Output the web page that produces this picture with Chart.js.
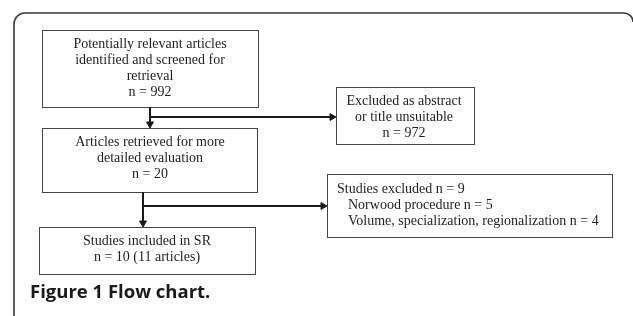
<!DOCTYPE html>
<html>
<head>
<meta charset="utf-8">
<script src="https://cdn.jsdelivr.net/npm/chart.js@4/dist/chart.umd.min.js"></script>
<style>
  html,body{margin:0;padding:0;background:#fff;}
  #wrap{width:633px;height:316px;position:relative;}
</style>
</head>
<body>
<div id="wrap"><canvas id="c"></canvas></div>
<script>
// flow chart content
const stageTexts = [
  ['Potentially relevant articles', 'identified and screened for', 'retrieval'],
  ['Articles retrieved for more', 'detailed evaluation'],
  ['Studies included in SR']
];
const stageCounts = ['n = 992', 'n = 20', 'n = 10 (11 articles)'];
const exclTexts = [
  ['Excluded as abstract', 'or title unsuitable'],
  ['Studies excluded n = 9']
];
const exclCounts = ['n = 972', null];
const exclReasons = [[], ['Norwood procedure n = 5', 'Volume, specialization, regionalization n = 4']];
const caption = ['Figure 1', 'Flow chart.'];

// layout in scale units (x 0..633, y 0..316 top-down)
const layout = {
  stages: [
    {x: 42, y: 30, w: 216, h: 77, cx: 150, line0: 44},
    {x: 42, y: 128, w: 215, h: 64, cx: 150, line0: 142},
    {x: 39, y: 227, w: 216, h: 47, cx: 147, line0: 241}
  ],
  excl: [
    {x: 336, y: 87, w: 138, h: 57, cx: 404, line0: 101, align: 'center'},
    {x: 327, y: 174, w: 285, h: 63, tx: 337, indent: 11, line0: 189, align: 'left'}
  ],
  lineH: 16.2,
  arrows: [
    {from: [150, 107], to: [150, 124], branchY: 117, branchTo: 332},
    {from: [143, 192], to: [143, 223], branchY: 206, branchTo: 323}
  ]
};

const datasets = [];
layout.arrows.forEach(a => {
  datasets.push({type: 'line', data: [{x: a.from[0], y: a.from[1]}, {x: a.to[0], y: a.to[1]}],
    borderColor: '#1a1a1a', borderWidth: 2, pointRadius: 0, showLine: true});
  datasets.push({type: 'line', data: [{x: a.from[0], y: a.branchY}, {x: a.branchTo, y: a.branchY}],
    borderColor: '#1a1a1a', borderWidth: 2, pointRadius: 0, showLine: true});
  datasets.push({type: 'scatter', data: [{x: a.to[0], y: a.to[1]}], pointStyle: 'triangle', rotation: 180,
    pointRadius: 4, backgroundColor: '#1a1a1a', borderColor: '#1a1a1a', borderWidth: 1});
  datasets.push({type: 'scatter', data: [{x: a.branchTo, y: a.branchY}], pointStyle: 'triangle', rotation: 90,
    pointRadius: 4, backgroundColor: '#1a1a1a', borderColor: '#1a1a1a', borderWidth: 1});
});

const flowPlugin = {
  id: 'flow',
  beforeDatasetsDraw(chart){
    const {ctx, scales:{x, y}} = chart;
    const px = v => x.getPixelForValue(v), py = v => y.getPixelForValue(v);
    ctx.save();
    // outer frame (open at bottom)
    ctx.strokeStyle = '#3a3a3a'; ctx.lineWidth = 1.6;
    const r = 11;
    ctx.beginPath();
    ctx.moveTo(px(14), py(316));
    ctx.lineTo(px(14), py(13 + r));
    ctx.arcTo(px(14), py(13), px(14 + r), py(13), r);
    ctx.lineTo(px(624), py(13));
    ctx.arcTo(px(633), py(13), px(633), py(22), 9);
    ctx.stroke();

    ctx.strokeStyle = '#444'; ctx.lineWidth = 1;
    const rect = b => ctx.strokeRect(Math.round(px(b.x)) + 0.5, Math.round(py(b.y)) + 0.5,
      Math.round(px(b.x + b.w) - px(b.x)), Math.round(py(b.y + b.h) - py(b.y)));
    layout.stages.forEach(rect);
    layout.excl.forEach(rect);

    ctx.fillStyle = '#1e1e1e';
    ctx.font = '14px "Liberation Serif", "Times New Roman", serif';
    ctx.textBaseline = 'middle';
    layout.stages.forEach((b, i) => {
      ctx.textAlign = 'center';
      const lines = stageTexts[i].concat([stageCounts[i]]);
      lines.forEach((t, k) => ctx.fillText(t, px(b.cx), py(b.line0 + k * layout.lineH)));
    });
    layout.excl.forEach((b, i) => {
      if(b.align === 'center'){
        ctx.textAlign = 'center';
        const lines = exclTexts[i].concat(exclCounts[i] ? [exclCounts[i]] : []);
        lines.forEach((t, k) => ctx.fillText(t, px(b.cx), py(b.line0 + k * layout.lineH)));
      } else {
        ctx.textAlign = 'left';
        exclTexts[i].forEach((t, k) => ctx.fillText(t, px(b.tx), py(b.line0 + k * layout.lineH)));
        exclReasons[i].forEach((t, k) => ctx.fillText(t, px(b.tx + b.indent),
          py(b.line0 + (k + exclTexts[i].length) * layout.lineH)));
      }
    });

    // caption
    ctx.textAlign = 'left';
    ctx.textBaseline = 'alphabetic';
    ctx.fillStyle = '#1a1a1a';
    ctx.font = 'bold 18.5px "Open Sans", "DejaVu Sans", sans-serif';
    ctx.fillText(caption.join(' '), px(30), py(298));
    ctx.restore();
  }
};

new Chart(document.getElementById('c'), {
  data: {datasets},
  options: {
    responsive: true,
    maintainAspectRatio: false,
    animation: false,
    layout: {padding: 0, autoPadding: false},
    plugins: {legend: {display: false}, tooltip: {enabled: false}},
    scales: {
      x: {type: 'linear', min: 0, max: 633, display: false},
      y: {type: 'linear', min: 0, max: 316, reverse: true, display: false}
    }
  },
  plugins: [flowPlugin]
});
</script>
</body>
</html>
